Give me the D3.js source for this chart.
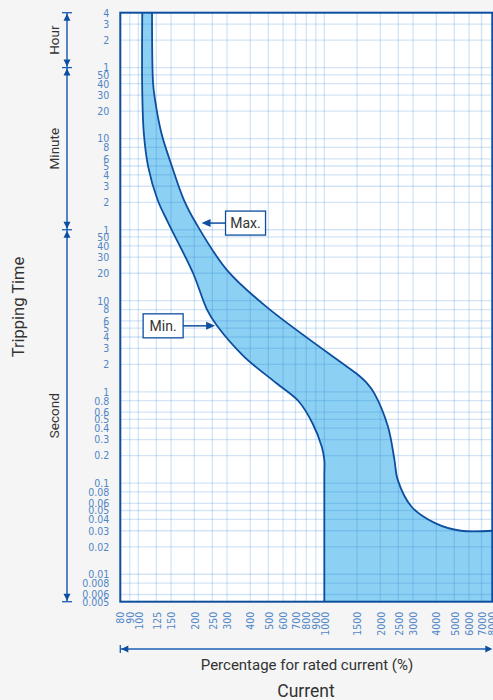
<!DOCTYPE html>
<html lang="en">
<head>
    <meta charset="UTF-8">
    <title>Tripping Curve</title>
    <script src="https://d3js.org/d3.v7.min.js"></script>
    <style>
        body { margin: 0; background: #f5f5f5; }
        svg { display: block; font-family: Roboto, "DejaVu Sans", sans-serif; }
        .tick text { font-family: "Liberation Sans Narrow", "DejaVu Sans Condensed", sans-serif; }
    </style>
</head>
<body>
<div id="chart"></div>
<script>

// ---- data ----
// current, % of rated current
let xTicks = [80, 90, 100, 125, 150, 200, 250, 300, 400, 500, 600, 700, 800, 900, 1000,
              1500, 2000, 2500, 3000, 4000, 5000, 6000, 7000, 8000]

// tripping time tick labels, per unit
let hourTicks = [4, 3, 2, 1]
let minuteTicks = [50, 40, 30, 20, 10, 8, 6, 5, 4, 3, 2, 1]
let secondTicks = [50, 40, 30, 20, 10, 8, 6, 5, 4, 3, 2, 1, 0.8, 0.6, 0.5, 0.4, 0.3, 0.2,
                   0.1, 0.08, 0.06, 0.05, 0.04, 0.03, 0.02, 0.01, 0.008, 0.006, 0.005]

// curves: [current %, time in seconds]
let minCurrent = [105, 105, 107, 113, 127, 145, 197, 234, 265, 370, 551, 731, 865, 968, 1000, 1000, 1000]
let minTime    = [14400, 1900, 690, 293, 127, 71, 20, 8, 5.3, 2.44, 1.25, 0.78, 0.45, 0.252, 0.18, 0.12, 0.005]

let maxCurrent = [118.5, 120, 123, 133, 152, 176, 204, 299, 487, 1319, 1482, 1694, 1854,
                  2196, 2382, 2479, 2946, 3942, 5420, 8000]
let maxTime    = [14400, 2440, 1590, 690, 293, 127, 71, 21.8, 8.6, 1.9, 1.6, 1.25, 0.97,
                  0.42, 0.18, 0.109, 0.055, 0.0364, 0.03, 0.03]

// where the Max. / Min. callouts point
let maxLabelAt = [216, 71]
let minLabelAt = [262, 5.3]

// ---- layout ----
let width = 493, height = 700
let pLeft = 120.3, pRight = 492.3, pTop = 12.7, pBottom = 601.7

let blue = "#0d4f9e"
let tickBlue = "#4f86c6"
let textGrey = "#333"

let svg = d3.select("#chart").append("svg")
    .attr("width", width)
    .attr("height", height)

let x = d3.scaleLog().domain([80, 8000]).range([pLeft, pRight])
let y = d3.scaleLog().domain([0.005, 14400]).range([pBottom, pTop])

// all y tick values in seconds
let yTicks = hourTicks.map(d => d * 3600)
    .concat(minuteTicks.map(d => d * 60))
    .concat(secondTicks)
let yLabels = hourTicks.concat(minuteTicks).concat(secondTicks)

svg.append("defs").append("clipPath").attr("id", "plotClip")
    .append("rect")
    .attr("x", pLeft).attr("y", pTop)
    .attr("width", pRight - pLeft).attr("height", pBottom - pTop)

// white plot area
svg.append("rect")
    .attr("x", pLeft).attr("y", pTop)
    .attr("width", pRight - pLeft).attr("height", pBottom - pTop)
    .attr("fill", "white")

let plot = svg.append("g").attr("clip-path", "url(#plotClip)")

let minPts = minCurrent.map((c, i) => [c, minTime[i]])
let maxPts = maxCurrent.map((c, i) => [c, maxTime[i]])

let line = d3.line()
    .x(d => x(d[0]))
    .y(d => y(d[1]))
    .curve(d3.curveCatmullRom.alpha(0.5))

// band between the two curves
let bandPath = line(maxPts)
    + "L" + x(8000) + "," + y(0.005)
    + line(minPts.slice().reverse()).replace(/^M/, "L")
    + "Z"

plot.append("path")
    .attr("d", bandPath)
    .attr("fill", "#8cd0f3")

// grid lines (semi transparent so they darken over the band)
plot.selectAll(".vgrid")
    .data(xTicks)
    .enter()
    .append("line")
    .attr("x1", d => x(d)).attr("x2", d => x(d))
    .attr("y1", pTop).attr("y2", pBottom)
    .attr("stroke", "#1e78d2")
    .attr("stroke-opacity", 0.2)
    .attr("stroke-width", 1.3)

plot.selectAll(".hgrid")
    .data(yTicks)
    .enter()
    .append("line")
    .attr("y1", d => y(d)).attr("y2", d => y(d))
    .attr("x1", pLeft).attr("x2", pRight)
    .attr("stroke", "#1e78d2")
    .attr("stroke-opacity", 0.2)
    .attr("stroke-width", 1.3)

// min / max curves
plot.append("path")
    .attr("d", line(minPts))
    .attr("fill", "none")
    .attr("stroke", blue)
    .attr("stroke-width", 1.8)

plot.append("path")
    .attr("d", line(maxPts))
    .attr("fill", "none")
    .attr("stroke", blue)
    .attr("stroke-width", 1.8)

// border
svg.append("rect")
    .attr("x", pLeft).attr("y", pTop)
    .attr("width", pRight - pLeft).attr("height", pBottom - pTop)
    .attr("fill", "none")
    .attr("stroke", blue)
    .attr("stroke-width", 2)

// y axis labels
let yAxis = svg.append("g")
    .attr("transform", "translate(" + pLeft + ",0)")
    .call(d3.axisLeft(y).tickValues(yTicks).tickFormat((d, i) => yLabels[i]).tickSize(0).tickPadding(11))
yAxis.select(".domain").remove()
yAxis.selectAll("text")
    .attr("fill", tickBlue)
    .style("font-size", "10.5px")

// x axis labels, rotated
let xAxis = svg.append("g")
    .attr("transform", "translate(0," + pBottom + ")")
    .call(d3.axisBottom(x).tickValues(xTicks).tickFormat(d => d).tickSize(0))
xAxis.select(".domain").remove()
xAxis.selectAll("text")
    .attr("transform", "rotate(-90)")
    .attr("text-anchor", "end")
    .attr("x", -10)
    .attr("y", 0)
    .attr("dy", "0.35em")
    .attr("fill", tickBlue)
    .style("font-size", "10.5px")

// arrowhead helper: tip at (tx,ty), pointing in direction dir
function arrowHead(g, tx, ty, dir, len, half) {
    let pts
    if (dir == "up") pts = [[tx, ty], [tx - half, ty + len], [tx + half, ty + len]]
    if (dir == "down") pts = [[tx, ty], [tx - half, ty - len], [tx + half, ty - len]]
    if (dir == "left") pts = [[tx, ty], [tx + len, ty - half], [tx + len, ty + half]]
    if (dir == "right") pts = [[tx, ty], [tx - len, ty - half], [tx - len, ty + half]]
    g.append("polygon").attr("points", pts.join(" ")).attr("fill", blue)
}

// unit bracket on the left
let axisBlue = "#1a5fb4"
let bx = 67
let bounds = [14400, 3600, 60, 0.005]
let units = ["Hour", "Minute", "Second"]
let bracket = svg.append("g")

bracket.append("line")
    .attr("x1", bx).attr("x2", bx)
    .attr("y1", y(14400)).attr("y2", y(0.005))
    .attr("stroke", axisBlue).attr("stroke-width", 1.5)

bounds.forEach(function(b) {
    bracket.append("line")
        .attr("x1", bx - 5).attr("x2", bx + 5)
        .attr("y1", y(b)).attr("y2", y(b))
        .attr("stroke", axisBlue).attr("stroke-width", 1.3)
})

units.forEach(function(u, i) {
    let y0 = y(bounds[i]), y1 = y(bounds[i + 1])
    arrowHead(bracket, bx, y0 + 1, "up", 7, 3.5)
    arrowHead(bracket, bx, y1 - 1, "down", 7, 3.5)
    bracket.append("text")
        .attr("transform", "translate(" + 59 + "," + (y0 + y1) / 2 + ") rotate(-90)")
        .attr("text-anchor", "middle")
        .attr("fill", textGrey)
        .style("font-size", "13.5px")
        .text(u)
})

svg.append("text")
    .attr("transform", "translate(24," + 307 + ") rotate(-90)")
    .attr("text-anchor", "middle")
    .attr("fill", textGrey)
    .style("font-size", "16.5px")
    .text("Tripping Time")

// bottom arrow and titles
let ay = 649
svg.append("line")
    .attr("x1", pLeft).attr("x2", pRight - 2)
    .attr("y1", ay).attr("y2", ay)
    .attr("stroke", axisBlue).attr("stroke-width", 1.5)
svg.append("line")
    .attr("x1", pLeft).attr("x2", pLeft)
    .attr("y1", ay - 4).attr("y2", ay + 4)
    .attr("stroke", axisBlue).attr("stroke-width", 1.3)
arrowHead(svg, pLeft + 1, ay, "left", 7, 3.5)
arrowHead(svg, pRight, ay, "right", 7, 3.5)

svg.append("text")
    .attr("x", 307).attr("y", 670)
    .attr("text-anchor", "middle")
    .attr("fill", textGrey)
    .style("font-size", "15px")
    .text("Percentage for rated current (%)")

svg.append("text")
    .attr("x", 306).attr("y", 697)
    .attr("text-anchor", "middle")
    .attr("fill", textGrey)
    .style("font-size", "17.5px")
    .text("Current")

// Max. / Min. callouts
function callout(at, label, side, gap) {
    let tx = x(at[0]), ty = y(at[1])
    let w = 40, h = 24
    let bx0 = side == "right" ? tx + gap : tx - gap - w
    let g = svg.append("g")
    g.append("rect")
        .attr("x", bx0).attr("y", ty - h / 2)
        .attr("width", w).attr("height", h)
        .attr("fill", "white")
        .attr("stroke", blue).attr("stroke-width", 1.3)
    g.append("text")
        .attr("x", bx0 + w / 2).attr("y", ty)
        .attr("dy", "0.36em")
        .attr("text-anchor", "middle")
        .attr("fill", textGrey)
        .style("font-size", "14px")
        .text(label)
    // arrow from box to curve
    let from = side == "right" ? bx0 : bx0 + w
    let tipX = side == "right" ? tx + 1 : tx - 1
    g.append("line")
        .attr("x1", from).attr("x2", side == "right" ? tipX + 6 : tipX - 6)
        .attr("y1", ty).attr("y2", ty)
        .attr("stroke", blue).attr("stroke-width", 1.5)
    arrowHead(g, tipX, ty, side == "right" ? "left" : "right", 9, 4)
}

callout(maxLabelAt, "Max.", "right", 25)
callout(minLabelAt, "Min.", "left", 33)

</script>
</body>
</html>
